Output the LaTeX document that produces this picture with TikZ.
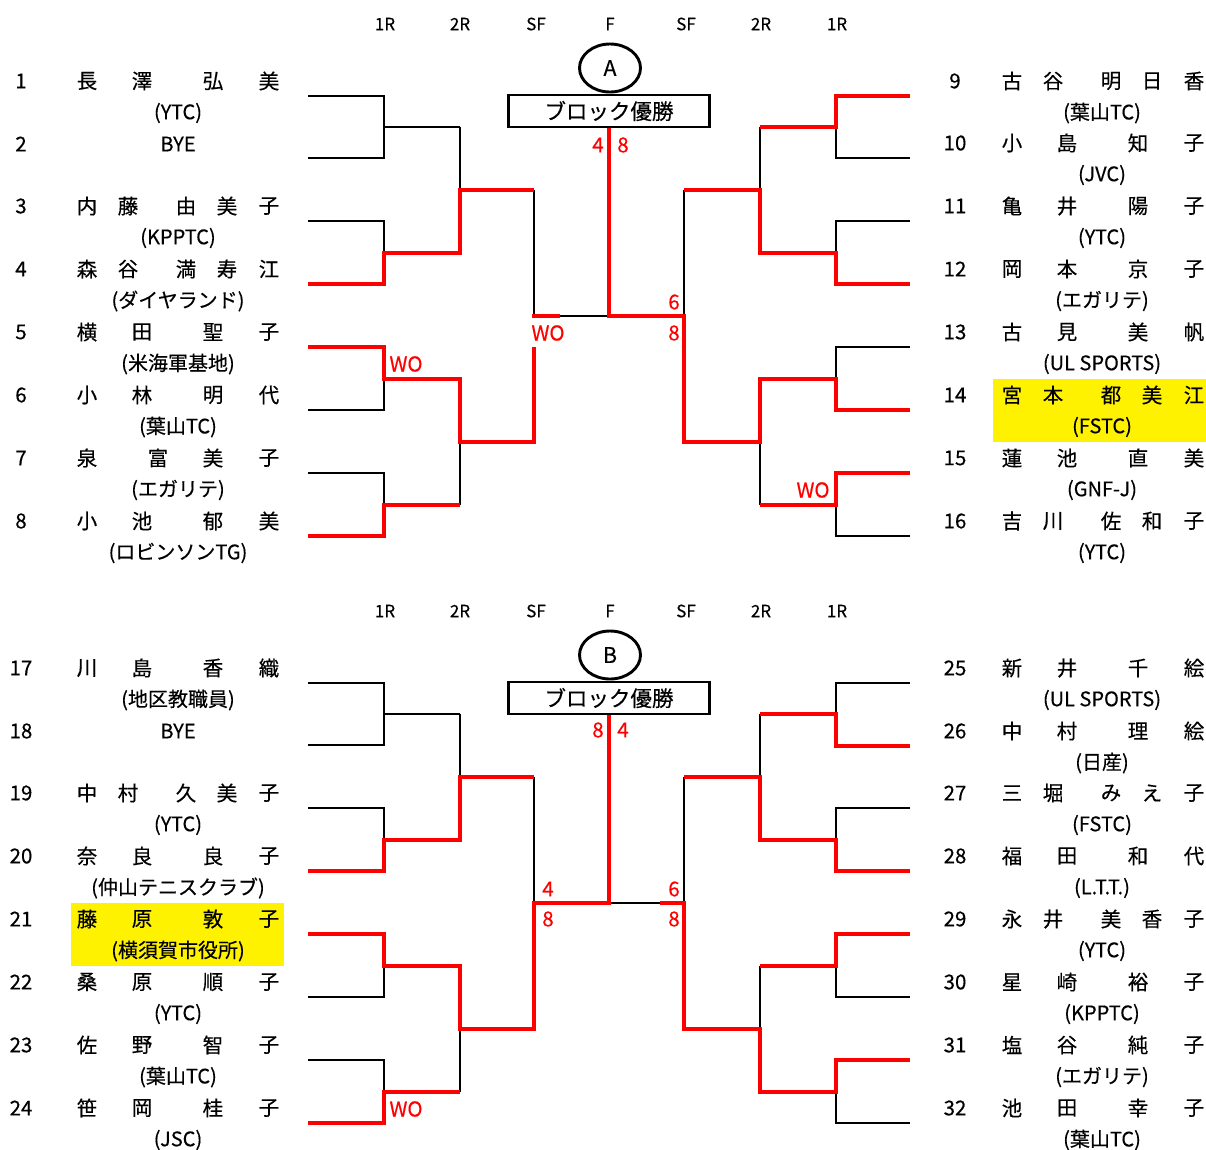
\documentclass[tikz,border=0pt]{standalone}
\usepackage{fontspec}
\setmainfont{Noto Sans CJK JP}[FakeBold=0.35]
\usetikzlibrary{shapes.geometric}
\tikzset{
 bk/.style={draw=black,line width=2.9pt},
 rd/.style={draw=red,line width=4.5pt,line join=miter},
 nm/.style={inner sep=0pt,font=\fontsize{20.5}{21}\selectfont},
 aff/.style={inner sep=0pt,font=\fontsize{20}{20}\selectfont},
 num/.style={inner sep=0pt,font=\fontsize{20.5}{21}\selectfont},
 hdr/.style={inner sep=0pt,font=\fontsize{17}{17}\selectfont},
 rn/.style={inner sep=0pt,text=red,font=\fontsize{20.5}{21}\selectfont},
 hl/.style={fill=yellow,draw=none},
 ttl/.style={draw=black,line width=2.9pt,minimum width=201pt,minimum height=32pt,inner sep=0pt,font=\fontsize{21.5}{22}\selectfont},
 blk/.style={ellipse,draw=black,line width=2.9pt,minimum width=61pt,minimum height=48pt,inner sep=0pt,font=\fontsize{21.5}{22}\selectfont},
}
\newcommand\fourN[7]{%
 \node[nm] (#1a) at (87+#2,#3-15) {#4};
 \node[nm] (#1b) at (142+#2,#3-15) {#5};
 \node[nm] (#1c) at (213+#2,#3-15) {#6};
 \node[nm] (#1d) at (269+#2,#3-15) {#7};}
\newcommand\fiveN[8]{%
 \node[nm] (#1a) at (87+#2,#3-15) {#4};
 \node[nm] (#1b) at (128+#2,#3-15) {#5};
 \node[nm] (#1c) at (186+#2,#3-15) {#6};
 \node[nm] (#1d) at (227+#2,#3-15) {#7};
 \node[nm] (#1e) at (269+#2,#3-15) {#8};}
\newcommand\otN[7]{%
 \node[nm] (#1a) at (87+#2,#3-15) {#4};
 \node[nm] (#1b) at (158+#2,#3-15) {#5};
 \node[nm] (#1c) at (213+#2,#3-15) {#6};
 \node[nm] (#1d) at (269+#2,#3-15) {#7};}
\newcommand\infoL[4]{%
 \node[num] (#1n) at (21,#2-15) {#3};
 \node[aff] (#1f) at (178,#2+17) {#4};}
\newcommand\infoR[4]{%
 \node[num] (#1n) at (955,#2-15) {#3};
 \node[aff] (#1f) at (1102,#2+17) {#4};}
\begin{document}
\begin{tikzpicture}[x=1pt,y=-1pt]
\useasboundingbox (0,0) rectangle (1206,1149);
% highlights
\fill[hl] (993,379) rectangle (1206,442);
\fill[hl] (71,903) rectangle (284,966);
% headers
\foreach \x/\t [count=\i] in {385/1R,460/2R,536/SF,610/F,686/SF,761/2R,837/1R}{
 \node[hdr] (hA\i) at (\x,24) {\t};
 \node[hdr] (hB\i) at (\x,611) {\t};}
% block marks
\node[blk] (cA) at (610,68) {A};
\node[blk] (cB) at (610,655) {B};
\node[ttl] (boxA) at (609,111) {ブロック優勝};
\node[ttl] (boxB) at (609,698) {ブロック優勝};
% black skeleton
\foreach \dy in {0,-587}{
\begin{scope}[yshift=\dy pt]
 \foreach \a/\b/\m in {96/158/127,221/284/253,347/410/379,473/536/505}{
  \draw[bk] (308,\a) -| (384,\b) -- (308,\b);
  \draw[bk] (384,\m) -- (460,\m);
  \draw[bk] (910,\a) -| (836,\b) -- (910,\b);
  \draw[bk] (836,\m) -- (760,\m);}
 \draw[bk] (460,127) -- (460,253);
 \draw[bk] (460,379) -- (460,505);
 \draw[bk] (460,190) -- (534,190);
 \draw[bk] (460,442) -- (534,442);
 \draw[bk] (534,190) -- (534,316);
 \draw[bk] (534,316) -- (684,316);
 \draw[bk] (760,127) -- (760,253);
 \draw[bk] (760,379) -- (760,505);
 \draw[bk] (760,190) -- (684,190);
 \draw[bk] (760,442) -- (684,442);
 \draw[bk] (684,190) -- (684,442);
\end{scope}}
% red paths block A
\draw[rd] (308,284) -- (384,284) -- (384,253) -- (460,253) -- (460,190) -- (534,190);
\draw[rd] (308,347) -- (384,347) -- (384,379) -- (460,379) -- (460,442) -- (534,442) -- (534,347);
\draw[rd] (308,536) -- (384,536) -- (384,505) -- (460,505);
\draw[rd] (532,316) -- (560,316);
\draw[rd] (boxA.south) -- (609,316) -- (684,316) -- (684,442) -- (760,442) -- (760,379) -- (836,379) -- (836,410) -- (910,410);
\draw[rd] (684,190) -- (760,190) -- (760,253) -- (836,253) -- (836,284) -- (910,284);
\draw[rd] (910,96) -- (836,96) -- (836,127) -- (760,127);
\draw[rd] (910,473) -- (836,473) -- (836,505) -- (760,505);
% red paths block B
\draw[rd] (308,871) -- (384,871) -- (384,840) -- (460,840) -- (460,777) -- (534,777);
\draw[rd] (308,934) -- (384,934) -- (384,966) -- (460,966) -- (460,1029) -- (534,1029) -- (534,903) -- (609,903) -- (boxB.south);
\draw[rd] (308,1123) -- (384,1123) -- (384,1092) -- (460,1092);
\draw[rd] (660,903) -- (684,903) -- (684,1029) -- (760,1029) -- (760,1092) -- (836,1092) -- (836,1060) -- (910,1060);
\draw[rd] (684,777) -- (760,777) -- (760,840) -- (836,840) -- (836,871) -- (910,871);
\draw[rd] (910,746) -- (836,746) -- (836,714) -- (760,714);
\draw[rd] (910,934) -- (836,934) -- (836,966) -- (760,966);
% scores
\node[rn] (sA1) at (598,145) {4};
\node[rn] (sA2) at (623,145) {8};
\node[rn] (sA3) at (674,302) {6};
\node[rn] (sA4) at (674,333) {8};
\node[rn] (wA1) at (406,364) {WO};
\node[rn] (wA2) at (548,333) {WO};
\node[rn] (wA3) at (813,490) {WO};
\node[rn] (sB1) at (598,730) {8};
\node[rn] (sB2) at (623,730) {4};
\node[rn] (sB3) at (548,889) {4};
\node[rn] (sB4) at (548,919) {8};
\node[rn] (sB5) at (674,889) {6};
\node[rn] (sB6) at (674,919) {8};
\node[rn] (wB1) at (406,1109) {WO};
% players block A left
\fourN{p1}{0}{96}{長}{澤}{弘}{美}\infoL{p1}{96}{1}{(YTC)}
\node[num] (p2n) at (21,144) {2};
\node[aff] (p2f) at (178,144) {BYE};
\fiveN{p3}{0}{221}{内}{藤}{由}{美}{子}\infoL{p3}{221}{3}{(KPPTC)}
\fiveN{p4}{0}{284}{森}{谷}{満}{寿}{江}\infoL{p4}{284}{4}{(ダイヤランド)}
\fourN{p5}{0}{347}{横}{田}{聖}{子}\infoL{p5}{347}{5}{(米海軍基地)}
\fourN{p6}{0}{410}{小}{林}{明}{代}\infoL{p6}{410}{6}{(葉山TC)}
\otN{p7}{0}{473}{泉}{富}{美}{子}\infoL{p7}{473}{7}{(エガリテ)}
\fourN{p8}{0}{536}{小}{池}{郁}{美}\infoL{p8}{536}{8}{(ロビンソンTG)}
% block A right
\fiveN{p9}{925}{96}{古}{谷}{明}{日}{香}\infoR{p9}{96}{9}{(葉山TC)}
\fourN{p10}{925}{158}{小}{島}{知}{子}\infoR{p10}{158}{10}{(JVC)}
\fourN{p11}{925}{221}{亀}{井}{陽}{子}\infoR{p11}{221}{11}{(YTC)}
\fourN{p12}{925}{284}{岡}{本}{京}{子}\infoR{p12}{284}{12}{(エガリテ)}
\fourN{p13}{925}{347}{古}{見}{美}{帆}\infoR{p13}{347}{13}{(UL SPORTS)}
\fiveN{p14}{925}{410}{宮}{本}{都}{美}{江}\infoR{p14}{410}{14}{(FSTC)}
\fourN{p15}{925}{473}{蓮}{池}{直}{美}\infoR{p15}{473}{15}{(GNF-J)}
\fiveN{p16}{925}{536}{吉}{川}{佐}{和}{子}\infoR{p16}{536}{16}{(YTC)}
% block B left
\fourN{p17}{0}{683}{川}{島}{香}{織}\infoL{p17}{683}{17}{(地区教職員)}
\node[num] (p18n) at (21,731) {18};
\node[aff] (p18f) at (178,731) {BYE};
\fiveN{p19}{0}{808}{中}{村}{久}{美}{子}\infoL{p19}{808}{19}{(YTC)}
\fourN{p20}{0}{871}{奈}{良}{良}{子}\infoL{p20}{871}{20}{(仲山テニスクラブ)}
\fourN{p21}{0}{934}{藤}{原}{敦}{子}\infoL{p21}{934}{21}{(横須賀市役所)}
\fourN{p22}{0}{997}{桑}{原}{順}{子}\infoL{p22}{997}{22}{(YTC)}
\fourN{p23}{0}{1060}{佐}{野}{智}{子}\infoL{p23}{1060}{23}{(葉山TC)}
\fourN{p24}{0}{1123}{笹}{岡}{桂}{子}\infoL{p24}{1123}{24}{(JSC)}
% block B right
\fourN{p25}{925}{683}{新}{井}{千}{絵}\infoR{p25}{683}{25}{(UL SPORTS)}
\fourN{p26}{925}{746}{中}{村}{理}{絵}\infoR{p26}{746}{26}{(日産)}
\fiveN{p27}{925}{808}{三}{堀}{み}{え}{子}\infoR{p27}{808}{27}{(FSTC)}
\fourN{p28}{925}{871}{福}{田}{和}{代}\infoR{p28}{871}{28}{(L.T.T.)}
\fiveN{p29}{925}{934}{永}{井}{美}{香}{子}\infoR{p29}{934}{29}{(YTC)}
\fourN{p30}{925}{997}{星}{崎}{裕}{子}\infoR{p30}{997}{30}{(KPPTC)}
\fourN{p31}{925}{1060}{塩}{谷}{純}{子}\infoR{p31}{1060}{31}{(エガリテ)}
\fourN{p32}{925}{1123}{池}{田}{幸}{子}\infoR{p32}{1123}{32}{(葉山TC)}
\end{tikzpicture}
\end{document}
